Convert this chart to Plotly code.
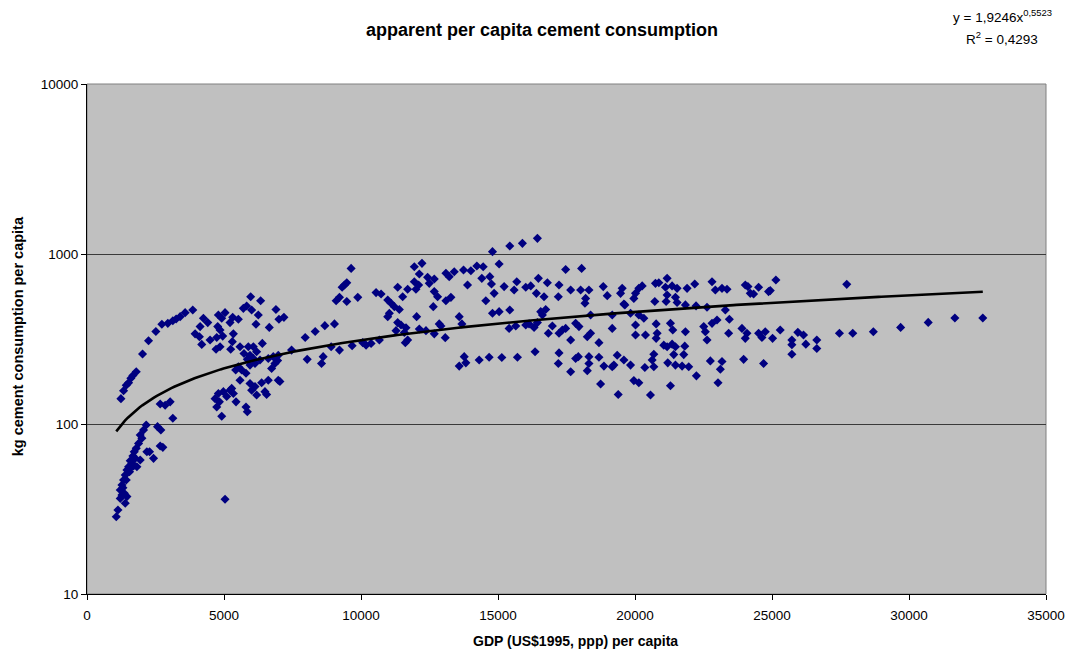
import numpy as np
import plotly.graph_objects as go

# ---- data: GDP per capita (US$1995 ppp) and kg cement per capita ----
gdp_arc = [1238, 1335, 1432, 1518, 1602, 1675, 1797, 2027, 2246, 2513, 2732, 2950, 3132, 3254, 3400, 3581, 3860]
kg_arc = [141, 157, 169, 175, 186, 193, 203, 258, 309, 350, 386, 391, 405, 415, 428, 452, 468]

gdp_steep = [2161, 2574, 2064, 1942, 2003, 1882, 1797, 1724, 1675, 1578,
             1639, 1518, 1457, 1396, 1335, 1275, 1214, 1275, 1360, 1457,
             1396, 1214, 1129, 1068, 2695, 2185, 2282, 2428, 2671, 2768,
             1942, 1821, 1700, 5038, 1760, 1554, 1432, 1311, 1602]
kg_steep = [98.6, 96.5, 92.2, 86.2, 82.4, 76.9, 71.9, 68.7, 64.8, 60.8,
            58.7, 56.1, 53.6, 50.1, 46.8, 43.8, 40.9, 38.2, 39.1, 37.4,
            34.2, 36.5, 31.2, 28.5, 92.2, 68.7, 68.7, 62.8, 74.2, 72.9,
            61.4, 56.1, 56.6, 36.1, 62.8, 52.4, 46.8, 42.1, 55.6]

gdp_mid = [5973, 6337, 5706, 5827, 6009, 6252, 6896, 7187, 7005, 6653,
           6167, 4249, 4407, 4128, 4795, 5038, 4917, 5317, 5524, 5220,
           4771, 4856, 3946, 4103, 4492, 4735, 4953, 5342, 4188, 4710,
           4856, 5244, 5584, 5305, 6398, 5888, 6070, 5730, 5949, 6191,
           5851, 6070, 5427, 5524, 5645, 5803, 5949, 6131, 6313, 6616,
           6798, 6981, 7466, 6859, 6738, 6956, 7964, 8328, 8680, 8037,
           8619, 8559, 5584, 5949, 6131, 6374, 6616, 6981, 7041, 6009,
           6191, 6495, 6556, 4674, 4795, 4977, 5099, 5220, 5342, 5281,
           5439, 4735, 4917, 5803, 5851, 4832, 2671, 2853, 3035, 3132]
kg_mid = [561, 531, 479, 494, 468, 438, 472, 424, 413, 370,
          386, 419, 395, 374, 438, 452, 419, 424, 413, 395,
          374, 357, 339, 326, 312, 323, 329, 339, 294, 275,
          285, 275, 285, 305, 298, 285, 285, 260, 254, 266,
          240, 243, 208, 217, 208, 199, 222, 227, 238, 243,
          249, 254, 272, 227, 212, 236, 323, 350, 379, 240,
          249, 227, 181, 173, 166, 175, 181, 181, 178, 158,
          148, 155, 149, 141, 151, 155, 145, 158, 151, 162,
          135, 126, 111, 126, 118, 135, 131, 129, 135, 108]

gdp_upper = [9639, 9481, 9396, 9311, 9214, 9093, 9481, 9882, 9032, 8911,
             9214, 9676, 10064, 10185, 10368, 10671, 10550, 10732, 10975, 11096,
             11217, 11399, 11035, 10975, 11339, 11521, 11703, 11946, 12104, 12006,
             11946, 12225, 12128, 12431, 12492, 12674, 12674, 12796, 13099, 13281,
             12638, 12031, 11339, 11460, 11642, 11278, 11582, 11703, 11618, 12128,
             12371, 12674, 12856, 12917, 13075, 13585, 13682, 13099, 13220, 13403,
             13742, 14010, 14228, 14459, 13888, 14410, 14701, 14762, 14859, 14799,
             15041, 15430, 15891, 16438, 14556, 14799, 15041, 15430, 15224, 15588,
             15685, 16013, 16195, 16474, 16401, 16680, 16802, 17227, 17202, 17469,
             16559, 16741, 16620, 16134, 16438, 16984, 17227, 17348, 17469, 16838,
             13585, 13767, 13827, 14313, 14677, 15139, 15709, 16353, 17227, 17202,
             15406, 15648, 16013, 16316]
kg_upper = [823, 678, 657, 637, 556, 531, 525, 556, 388, 285,
            272, 289, 301, 291, 298, 312, 593, 582, 536, 513,
            490, 472, 448, 428, 637, 561, 620, 687, 657, 620,
            842, 881, 763, 729, 672, 713, 601, 561, 531, 556,
            490, 428, 395, 382, 368, 354, 345, 312, 301, 362,
            354, 339, 388, 377, 322, 428, 388, 770, 736, 787,
            805, 797, 850, 842, 657, 719, 736, 666, 587, 1032,
            873, 1114, 1155, 1236, 531, 448, 458, 468, 643, 614,
            687, 637, 649, 719, 587, 561, 678, 657, 561, 811,
            458, 472, 438, 388, 395, 377, 342, 357, 365, 342,
            219, 249, 229, 238, 247, 246, 247, 266, 262, 227,
            365, 377, 382, 370]

gdp_high = [18052, 17652, 18016, 18319, 18198, 18174, 18380, 17834, 17955, 17652,
            18259, 18380, 18684, 17834, 17931, 18319, 18319, 18259, 17652, 18684,
            18744, 18866, 19169, 19230, 19351, 19388, 19594, 19837, 18841, 18987,
            19473, 19533, 19630, 19594, 19958, 20019, 20140, 20262, 20723, 20747,
            20869, 21172, 21112, 21172, 21136, 21354, 21536, 21476, 21536, 21840,
            21901, 22180, 19169, 19169, 19837, 20019, 20140, 20323, 20019, 20383,
            20772, 20808, 20772, 21294, 21379, 21051, 21172, 21354, 21476, 21840,
            21816, 21779, 21415, 20687, 20626, 20687, 20359, 21196, 21476, 21719,
            21961, 19958, 20140, 20565, 21294, 22241, 22228, 22629, 22811, 22932,
            23175, 23358, 24025, 24207, 24511, 24875, 25142, 22508, 22568, 22629,
            22811, 22993, 23443, 23297, 23418, 23904, 24086, 24025, 24511, 24632,
            25021, 25300, 25943, 26150, 25725, 25725, 26235, 26635, 22750, 23175,
            23115, 23030, 23965, 24693, 24122, 24329, 24936, 24754, 25725, 26635]
kg_high = [823, 614, 614, 614, 548, 513, 438, 391, 374, 312,
           326, 342, 301, 243, 249, 249, 227, 206, 203, 247,
           172, 219, 217, 222, 254, 149, 238, 222, 643, 569,
           587, 628, 502, 508, 548, 587, 628, 649, 525, 672,
           678, 719, 637, 574, 525, 649, 628, 556, 518, 502,
           628, 666, 438, 365, 448, 382, 438, 419, 334, 334,
           388, 342, 319, 391, 357, 291, 285, 295, 285, 349,
           287, 256, 256, 257, 238, 217, 215, 229, 222, 219,
           217, 180, 175, 148, 168, 192, 495, 486, 687, 614,
           628, 620, 657, 587, 637, 601, 703, 374, 349, 312,
           391, 409, 413, 468, 342, 365, 342, 319, 342, 323,
           319, 357, 346, 334, 312, 257, 295, 312, 235, 233,
           210, 175, 240, 227, 643, 582, 609, 349, 293, 278]

gdp_top = [27461, 27947, 28699, 29695, 30702, 31674, 32693, 27728]
kg_top = [342, 342, 349, 370, 396, 420, 420, 663]

# power trendline shown on the chart: y = 1,9246 x^0,5523
trend_a = 1.9246
trend_b = 0.5523
eq_line1 = "y = 1,9246x<sup>0,5523</sup>"
eq_line2 = "R<sup>2</sup> = 0,4293"

x_ticks = [0, 5000, 10000, 15000, 20000, 25000, 30000, 35000]
y_ticks = [10, 100, 1000, 10000]

gdp = gdp_arc + gdp_steep + gdp_mid + gdp_upper + gdp_high + gdp_top
kg = kg_arc + kg_steep + kg_mid + kg_upper + kg_high + kg_top

tx = np.linspace(min(gdp), max(gdp), 300)
ty = trend_a * tx ** trend_b

FONT = "Liberation Sans, Arial, sans-serif"

fig = go.Figure()
fig.add_trace(go.Scatter(
    x=gdp, y=kg, mode="markers",
    marker=dict(symbol="diamond", size=7, color="#000080", line=dict(width=0)),
    showlegend=False, hoverinfo="x+y"))
fig.add_trace(go.Scatter(
    x=tx, y=ty, mode="lines", line=dict(color="black", width=2.6),
    showlegend=False, hoverinfo="skip"))


def px_x(p):
    return (p - 87) / 963


def px_y(p):
    return (594 - p) / 510


fig.update_layout(
    width=1077, height=657,
    margin=dict(l=87, r=27, t=84, b=63),
    paper_bgcolor="white", plot_bgcolor="#C0C0C0",
    font=dict(family=FONT, color="black"),
    title=dict(text="<b>apparent per capita cement consumption</b>",
               x=542 / 1077, xref="container", xanchor="center",
               y=1 - 30 / 657, yref="container", yanchor="middle",
               font=dict(family=FONT, size=18, color="black")),
    xaxis=dict(range=[0, 35000], tickvals=x_ticks, ticktext=[str(v) for v in x_ticks],
               ticks="outside", ticklen=5, tickcolor="black", tickwidth=1,
               ticklabelstandoff=4,
               showline=True, linecolor="black", linewidth=1,
               showgrid=False, zeroline=False,
               tickfont=dict(family=FONT, size=13.5, color="black")),
    yaxis=dict(type="log", range=[1, 4], tickvals=y_ticks, ticktext=[str(v) for v in y_ticks],
               ticks="outside", ticklen=5, tickcolor="black", tickwidth=1,
               showline=True, linecolor="black", linewidth=1,
               showgrid=True, gridcolor="#3a3a3a", gridwidth=1, zeroline=False,
               tickfont=dict(family=FONT, size=13.5, color="black")),
    shapes=[dict(type="rect", xref="paper", yref="paper", x0=0, x1=1, y0=0, y1=1,
                 line=dict(color="#808080", width=1), fillcolor="rgba(0,0,0,0)", layer="below")],
    annotations=[
        dict(text="<b>GDP (US$1995, ppp) per capita</b>", xref="paper", yref="paper",
             x=px_x(578), y=px_y(641), xanchor="center", yanchor="middle", showarrow=False,
             font=dict(family=FONT, size=14, color="black")),
        dict(text="<b>kg cement consumption per capita</b>", xref="paper", yref="paper",
             x=px_x(18), y=px_y(336), xanchor="center", yanchor="middle", textangle=-90,
             showarrow=False, font=dict(family=FONT, size=14.5, color="black")),
        dict(text=eq_line1, xref="paper", yref="paper",
             x=px_x(1006), y=px_y(16), xanchor="center", yanchor="middle",
             showarrow=False, font=dict(family=FONT, size=13.5, color="black")),
        dict(text=eq_line2, xref="paper", yref="paper",
             x=px_x(1006), y=px_y(38), xanchor="center", yanchor="middle",
             showarrow=False, font=dict(family=FONT, size=13.5, color="black")),
    ],
)

fig.write_html("out.html")
